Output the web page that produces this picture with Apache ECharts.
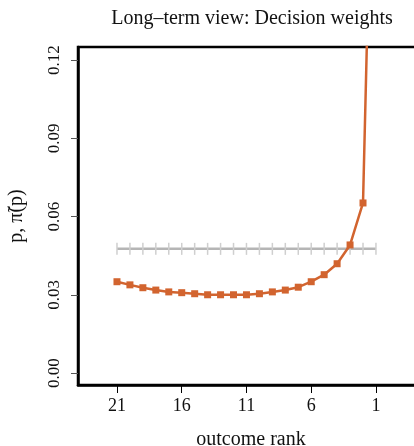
<!DOCTYPE html>
<html><head><meta charset="utf-8">
<script src="https://cdn.jsdelivr.net/npm/echarts@6/dist/echarts.min.js"></script>
<style>html,body{margin:0;padding:0;background:#fff}#c{width:414px;height:446px}</style>
</head><body><div id="c"></div>
<script>
const ranks = [21,20,19,18,17,16,15,14,13,12,11,10,9,8,7,6,5,4,3,2,1];
const weights = [0.0350,0.0338,0.0327,0.0318,0.0311,0.0308,0.0304,0.0300,0.0300,0.0300,0.0300,0.0304,0.0311,0.0318,0.0329,0.0350,0.0377,0.0419,0.0491,0.0652,0.27];
const uniformP = [0.0476,0.0476,0.0476,0.0476,0.0476,0.0476,0.0476,0.0476,0.0476,0.0476,0.0476,0.0476,0.0476,0.0476,0.0476,0.0476,0.0476,0.0476,0.0476,0.0476,0.0476];
const xTicks = [21,16,11,6,1];
const yTicks = [0,0.03,0.06,0.09,0.12];

const FONT = '"Liberation Serif", "DejaVu Serif", serif';
const chart = echarts.init(document.getElementById('c'), null, {renderer:'canvas'});
chart.setOption({
  animation:false,
  title:{text:'Long\u2013term view: Decision weights', left:247, textAlign:'center', top:4,
    textStyle:{fontFamily:FONT, fontWeight:'normal', fontSize:20, color:'#111'}},
  grid:{left:78, top:47, right:-10, bottom:61, show:true, borderColor:'#000', borderWidth:2.5,
    backgroundColor:'transparent', containLabel:false, outerBoundsMode:'none'},
  xAxis:{type:'value', inverse:true, min:-2.71, max:24.01,
    name:'outcome rank', nameLocation:'middle', nameGap:45,
    nameTextStyle:{fontFamily:FONT, fontSize:20, color:'#111'},
    axisLine:{show:true, onZero:false, lineStyle:{color:'#000', width:2.5}},
    axisTick:{show:true, length:8, lineStyle:{color:'#000', width:1}, customValues:xTicks},
    axisLabel:{customValues:xTicks, fontFamily:FONT, fontSize:18, color:'#111', margin:12},
    splitLine:{show:false}},
  yAxis:{type:'value', min:-0.0046, max:0.125,
    name:'p, \u03C0\u0303(p)', nameLocation:'middle', nameGap:51, nameRotate:90,
    nameTextStyle:{fontFamily:FONT, fontSize:20, color:'#111'},
    axisLine:{show:true, onZero:false, lineStyle:{color:'#000', width:2.5}},
    axisTick:{show:true, length:7, lineStyle:{color:'#555', width:1}, customValues:yTicks},
    axisLabel:{customValues:yTicks, rotate:90, fontFamily:FONT, fontSize:17, color:'#111', margin:15,
      formatter:v=>v.toFixed(2)},
    splitLine:{show:false}},
  series:[
    {type:'line', data:ranks.map((r,i)=>[r,uniformP[i]]), symbol:'rect', symbolSize:[1.5,12],
      showSymbol:true, itemStyle:{color:'#cfcfcf'}, lineStyle:{color:'#b5b5b5', width:2.5}, z:2},
    {type:'line', data:ranks.map((r,i)=>[r,weights[i]]), symbol:'rect', symbolSize:7,
      showSymbol:true, itemStyle:{color:'#D2642F'}, lineStyle:{color:'#D2642F', width:2.5}, z:3, clip:true}
  ]
});
</script></body></html>
